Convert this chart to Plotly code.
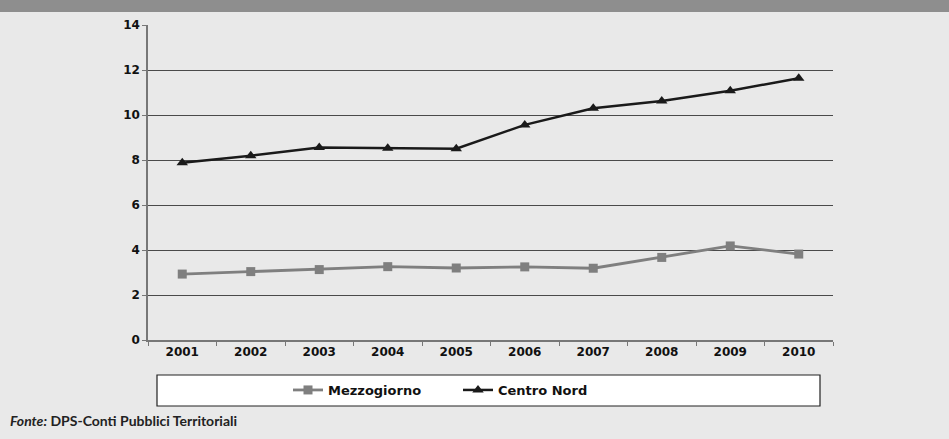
import plotly.graph_objects as go

years = ["2001", "2002", "2003", "2004", "2005", "2006", "2007", "2008", "2009", "2010"]
mezzogiorno = [2.93, 3.04, 3.13, 3.26, 3.2, 3.25, 3.19, 3.67, 4.18, 3.82]
centro_nord = [7.88, 8.19, 8.56, 8.52, 8.5, 9.56, 10.3, 10.62, 11.08, 11.63]
y_ticks = [0, 2, 4, 6, 8, 10, 12, 14]

W, H = 949, 439
L, R, T, B = 148, 116, 25, 99
pw, ph = W - L - R, H - T - B

def px(x):
    return (x - L) / pw

def py(y):
    return (H - B - y) / ph

fig = go.Figure()
fig.add_trace(go.Scatter(
    x=years, y=mezzogiorno, name="Mezzogiorno", mode="lines+markers",
    line=dict(color="#7f7f7f", width=2.8),
    marker=dict(symbol="square", size=9, color="#7f7f7f"),
))
fig.add_trace(go.Scatter(
    x=years, y=centro_nord, name="Centro Nord", mode="lines+markers",
    line=dict(color="#1a1a1a", width=2.5),
    marker=dict(symbol="triangle-up", size=10, color="#1a1a1a"),
))

font_fam = "DejaVu Sans, Verdana, sans-serif"

fig.update_layout(
    width=W, height=H,
    margin=dict(l=L, r=R, t=T, b=B),
    paper_bgcolor="#e9e9e9",
    plot_bgcolor="#e9e9e9",
    showlegend=True,
    legend=dict(
        orientation="h", x=px(288), xanchor="left", y=py(390), yanchor="middle",
        bgcolor="rgba(0,0,0,0)", borderwidth=0,
        font=dict(family=font_fam, size=13, color="#111", weight="bold"),
        entrywidth=125, entrywidthmode="pixels",
        itemwidth=30,
    ),
    xaxis=dict(
        type="category", range=[-0.5, 9.5],
        showgrid=False, showline=True, linecolor="#777", linewidth=1.5,
        ticks="outside", tickson="boundaries", ticklen=4, tickcolor="#777",
        tickfont=dict(family=font_fam, size=12, color="#111", weight="bold"),
    ),
    yaxis=dict(
        range=[0, 14], tickvals=y_ticks,
        showgrid=True, gridcolor="#4a4a4a", gridwidth=1.2,
        showline=True, linecolor="#777", linewidth=1.5,
        ticks="outside", ticklen=4, tickcolor="#777",
        tickfont=dict(family=font_fam, size=12, color="#111", weight="bold"),
        zeroline=False,
    ),
    shapes=[
        dict(type="rect", xref="paper", yref="paper",
             x0=px(0), x1=px(W), y0=py(12), y1=py(0),
             fillcolor="#8e8e8e", line=dict(width=0), layer="below"),
        dict(type="rect", xref="paper", yref="paper",
             x0=px(157), x1=px(820), y0=py(406), y1=py(375),
             fillcolor="white", line=dict(color="#222", width=1.2), layer="below"),
    ],
    annotations=[
        dict(text="<i>Fonte:</i> DPS-Conti Pubblici Territoriali",
             xref="paper", yref="paper", x=px(8), y=py(420),
             xanchor="left", yanchor="middle", showarrow=False,
             font=dict(family="Lato, Open Sans, sans-serif", size=14, color="#222", weight="bold")),
    ],
)

fig.write_html("out.html", config={"displayModeBar": False},
               post_script="document.body.style.margin='0';document.body.style.overflow='hidden';")
